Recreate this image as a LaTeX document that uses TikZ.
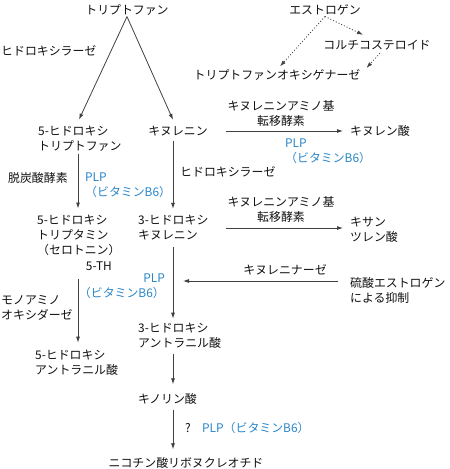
\documentclass[tikz,border=0pt]{standalone}
\usepackage{fontspec}
\setmainfont{Noto Sans CJK JP}
\usetikzlibrary{arrows.meta,calc}
\definecolor{plpblue}{HTML}{2A86C8}
\definecolor{inkc}{HTML}{111111}
\begin{document}
\begin{tikzpicture}[x=1pt,y=-1pt,
  every node/.style={font=\fontsize{11.9}{15}\selectfont, inner sep=1pt, text=inkc},
  arr/.style={draw=black!75, line width=0.8pt, -{Latex[length=6pt,width=4pt]}},
  dots/.style={arr, dash pattern=on 1pt off 2pt},
  plp/.style={text=plpblue, align=left}]
\useasboundingbox (0,0) rectangle (450,469);
\coordinate (cL) at (78,0);
\coordinate (cR) at (173,0);
% nodes
\node (trp) at (127,10) {トリプトファン};
\node[anchor=west] (hyd1) at (0,51) {ヒドロキシラーゼ};
\node (est) at (325,10) {エストロゲン};
\node (cort) at (377,45) {コルチコステロイド};
\node (tdo) at (277,75) {トリプトファンオキシゲナーゼ};
\node[anchor=west, align=left] (hty) at (37,138.5) {5-ヒドロキシ\\トリプトファン};
\node (kyn) at (178,131) {キヌレニン};
\node[align=center] (kat1) at (281,113) {キヌレニンアミノ基\\転移酵素};
\node[anchor=west] (kyna) at (349,131) {キヌレン酸};
\node[plp, anchor=west] (plp1) at (284,151) {PLP\\（ビタミンB6）};
\node[anchor=west] (hyd2) at (179,172) {ヒドロキシラーゼ};
\node[anchor=west] (dcx) at (7,178) {脱炭酸酵素};
\node[plp, anchor=west] (plp2) at (84,185) {PLP\\（ビタミンB6）};
\node[anchor=west, align=left] (ht) at (36,235) {5-ヒドロキシ\\トリプタミン\\（セロトニン）};
\node[anchor=east] (th) at (113,266) {5-TH};
\node[anchor=west, align=left] (hk) at (137,227.5) {3-ヒドロキシ\\キヌレニン};
\node[align=center] (kat2) at (281,209.5) {キヌレニンアミノ基\\転移酵素};
\node[anchor=west, align=left] (xa) at (349,229.5) {キサン\\ツレン酸};
\node[anchor=west, align=left] (mao) at (0,307.5) {モノアミノ\\オキシダーゼ};
\node[plp, align=right, anchor=east] (plp3) at (166,286.5) {PLP\\（ビタミンB6）};
\node (kynase) at (285,270) {キヌレニナーゼ};
\node[anchor=west, align=left] (sul) at (349,290.5) {硫酸エストロゲン\\による抑制};
\node[anchor=west, align=left] (haa) at (137,335.5) {3-ヒドロキシ\\アントラニル酸};
\node[anchor=west, align=left] (hiaa) at (34,362.5) {5-ヒドロキシ\\アントラニル酸};
\node[anchor=west] (qa) at (137,399) {キノリン酸};
\node (qm) at (188,428) {?};
\node[plp, anchor=west] (plp4) at (201,428) {PLP（ビタミンB6）};
\node (nn) at (186,463) {ニコチン酸リボヌクレオチド};
% connectors
\draw[arr] (trp.south) -- ($(cL|-hty.north)+(1,-5)$);
\draw[arr] (trp.south) -- ($(cR|-kyn.north)+(0,-5)$);
\draw[dots] (est.south) -- ($(tdo.north)+(3,-2)$);
\draw[dots] (est.south) -- ($(cort.north)+(-14,-4)$);
\draw[dots] ($(cort.south)+(3,2)$) -- ($(tdo.east)+(5,-7)$);
\draw[arr] ($(kyn.east)+(17,0)$) -- ($(kyna.west)+(-6,0)$);
\draw[arr] ($(cL|-hty.south)+(0,2)$) -- ($(cL|-ht.north)+(0,-5)$);
\draw[arr] ($(cR|-kyn.south)+(0,4)$) -- ($(cR|-hk.north)+(0,-5)$);
\draw[arr] ($(kyn.east|-hk.east)+(17,0.5)$) -- ($(xa.west|-hk.east)+(-6,0.5)$);
\draw[arr] ($(cL|-th.south)+(0,7)$) -- ($(cL|-hiaa.north)+(0,-6)$);
\draw[arr] ($(cR|-hk.south)+(0,6)$) -- ($(cR|-haa.north)+(0,-3)$);
\coordinate (ks) at ($(sul.west)+(-11,-9.5)$);
\draw[arr] (ks) -- ($(cR|-ks)+(10,0)$);
\draw[arr] ($(cR|-haa.south)+(0,5)$) -- ($(cR|-qa.north)+(0,-8)$);
\draw[arr] ($(cR|-qa.south)+(0,4)$) -- ($(cR|-nn.north)+(0,-7)$);
\end{tikzpicture}
\end{document}
